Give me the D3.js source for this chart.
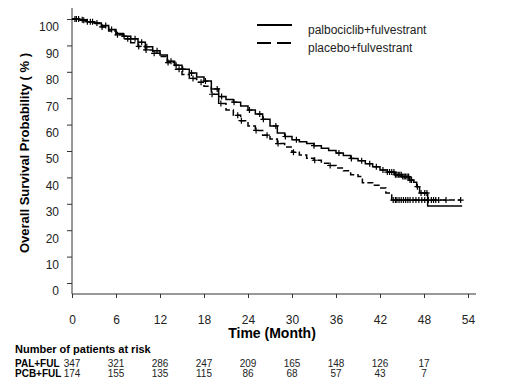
<!DOCTYPE html>
<html lang="en">
<head>
<meta charset="UTF-8">
<title>Overall Survival</title>
<script src="https://d3js.org/d3.v7.min.js"></script>
<style>
  body { margin: 0; background: #fff; font-family: "Liberation Sans", Arial, sans-serif; }
  .tick text { font-size: 12px; fill: #222; }
  .km { fill: none; stroke: #000; stroke-width: 1.5px; }
</style>
</head>
<body>
<svg id="chart" width="524" height="390"></svg>
<script>
// step points (month, survival %)
const palTime = [0, 1, 2, 3, 4, 5, 6, 7, 8, 9, 10, 11, 12, 13, 14, 15, 16, 17, 18, 19, 20, 21, 22, 23, 24, 25, 26, 27, 28, 29, 30, 31, 32, 33, 34, 35, 36, 37, 38, 39, 40, 41, 42, 43, 44, 45, 46, 46.6, 47, 47.4, 48.5, 53.2];
const palSurv = [100, 99.7, 99, 98.5, 97.5, 96, 94.5, 93.5, 92.5, 91.2, 89.5, 88, 86.4, 84, 82.5, 81, 79.5, 78, 76.5, 73.5, 70.6, 69.5, 68.5, 67, 65.5, 64, 62, 59.5, 56.8, 55.5, 54.3, 53.5, 52.8, 52, 51, 50.2, 49.2, 48.3, 47.2, 46.3, 45.2, 44, 42.8, 42, 41, 40.3, 39, 38.2, 36.5, 34.1, 29.2, 29.2];
const pcbTime = [0, 1, 2, 3, 4, 5, 6, 7, 8, 9, 10, 11, 12, 13, 14, 15, 16, 17, 18, 19, 20, 21, 22, 23, 24, 25, 26, 27, 28, 29, 30, 31, 32, 33, 34, 35, 36, 37, 38, 39, 39.6, 41, 42, 42.8, 43.6, 53];
const pcbSurv = [100, 99.5, 99, 98.3, 97, 95.5, 94, 92.5, 91, 89.6, 88.3, 87, 85.8, 83.5, 81, 79, 77.5, 76, 74.5, 71.5, 68, 65.5, 63.5, 61.5, 59.5, 57.8, 56, 54.5, 52.8, 51.5, 49.5, 48.5, 47.3, 46.5, 45.4, 44.5, 43.6, 42.5, 41, 40.3, 38, 37, 36, 34.1, 31.4, 31.4];

// censoring times
const palCensor = [0.4, 0.9, 1.4, 2.1, 2.8, 3.4, 4.6, 5.4, 7.1, 8, 8.6, 9.5, 10.2, 11.6, 13.5, 14.2, 15.1, 16.3, 18.2, 19.8, 20.4, 22.1, 24.2, 25.6, 26.1, 27.8, 29.1, 30.6, 33, 36.4, 38.1, 39.5, 40.6, 41.5, 42.4, 43, 43.3, 43.6, 43.9, 44.1, 44.3, 44.5, 44.7, 44.9, 45.1, 45.3, 45.5, 45.7, 45.9, 46.1, 46.3, 47.1, 47.6, 48.1, 48.4];
const pcbCensor = [0.6, 1.6, 2.5, 4.1, 6.2, 7.6, 9.1, 10.1, 11.2, 13.1, 14.6, 16.5, 17.6, 19.1, 20.3, 22.6, 23.1, 25.1, 26.6, 28.1, 30.2, 33.1, 35.2, 43.8, 44.1, 44.3, 44.6, 44.9, 45.2, 45.5, 45.8, 46.1, 46.5, 46.9, 47.3, 47.7, 48.1, 48.6, 49, 49.3, 49.6, 50, 51, 53];

const legendLabels = ["palbociclib+fulvestrant", "placebo+fulvestrant"];
const monthTicks = [0, 6, 12, 18, 24, 30, 36, 42, 48, 54];
const survTicks = [0, 10, 20, 30, 40, 50, 60, 70, 80, 90, 100];
const riskGroups = ["PAL+FUL", "PCB+FUL"];
const palRisk = [347, 321, 286, 247, 209, 165, 148, 126, 17];
const pcbRisk = [174, 155, 135, 115, 86, 68, 57, 43, 7];

const svg = d3.select("#chart");
const x = d3.scaleLinear().domain([0, 54]).range([72, 468]);
const y = d3.scaleLinear().domain([0, 100]).range([283, 19]);
const xAxisY = 294;

// axes
const yAxis = svg.append("g")
    .attr("transform", "translate(72,0)")
    .call(d3.axisLeft(y).tickValues(survTicks).tickSize(5).tickPadding(8));
yAxis.select(".domain").remove();
yAxis.selectAll(".tick line").attr("stroke", "#333");
yAxis.selectAll(".tick text").attr("dy", "0.32em").attr("y", 8);

const xAxis = svg.append("g")
    .attr("transform", `translate(0,${xAxisY})`)
    .call(d3.axisBottom(x).tickValues(monthTicks).tickSize(4).tickPadding(17));
xAxis.select(".domain").remove();
xAxis.selectAll(".tick line").attr("stroke", "#333");

svg.append("line")
    .attr("x1", 72).attr("x2", 72).attr("y1", 8).attr("y2", xAxisY)
    .attr("stroke", "#333");
svg.append("line")
    .attr("x1", 72).attr("x2", 476).attr("y1", xAxisY).attr("y2", xAxisY)
    .attr("stroke", "#333");

// axis labels
svg.append("text")
    .attr("transform", `translate(29,153) rotate(-90)`)
    .attr("text-anchor", "middle")
    .style("font-size", "13px").style("font-weight", "bold")
    .text("Overall Survival Probability ( % )");

svg.append("text")
    .attr("x", 272).attr("y", 338)
    .attr("text-anchor", "middle")
    .style("font-size", "14px").style("font-weight", "bold")
    .text("Time (Month)");

// KM curves
function curveData(times, surv) {
    return times.map((t, i) => ({ t: t, s: surv[i] }));
}
const line = d3.line().x(d => x(d.t)).y(d => y(d.s)).curve(d3.curveStepAfter);

const series = [
    { data: curveData(palTime, palSurv), censor: palCensor, dash: null },
    { data: curveData(pcbTime, pcbSurv), censor: pcbCensor, dash: "6,3" }
];

const bis = d3.bisector(d => d.t).right;
series.forEach(s => {
    svg.append("path")
        .datum(s.data)
        .attr("class", "km")
        .attr("stroke-dasharray", s.dash)
        .attr("d", line);

    const marks = s.censor.map(t => ({ t: t, s: s.data[Math.max(0, bis(s.data, t) - 1)].s }));
    svg.append("g").selectAll("path")
        .data(marks)
        .join("path")
        .attr("d", d => `M${x(d.t) - 3},${y(d.s)}h6M${x(d.t)},${y(d.s) - 3}v6`)
        .attr("stroke", "#000")
        .attr("stroke-width", 1.2);
});

// legend
const legend = svg.append("g");
legendLabels.forEach((lab, i) => {
    legend.append("line")
        .attr("x1", 257).attr("x2", 292)
        .attr("y1", 25 + i * 18).attr("y2", 25 + i * 18)
        .attr("stroke", "#000").attr("stroke-width", 2)
        .attr("stroke-dasharray", i === 1 ? "14,6" : null);
    legend.append("text")
        .attr("x", 308).attr("y", 34 + i * 18)
        .style("font-size", "12px").style("fill", "#222")
        .text(lab);
});

// number at risk
svg.append("text")
    .attr("x", 15).attr("y", 353)
    .style("font-size", "11px").style("font-weight", "bold")
    .text("Number of patients at risk");

[palRisk, pcbRisk].forEach((row, i) => {
    const ry = 367 + i * 10;
    svg.append("text")
        .attr("x", 15).attr("y", ry)
        .style("font-size", "10px").style("font-weight", "bold")
        .text(riskGroups[i]);
    svg.append("g").selectAll("text")
        .data(row)
        .join("text")
        .attr("x", (d, j) => x(monthTicks[j]))
        .attr("y", ry)
        .attr("text-anchor", "middle")
        .style("font-size", "10px").style("fill", "#222")
        .text(d => d);
});
</script>
</body>
</html>
